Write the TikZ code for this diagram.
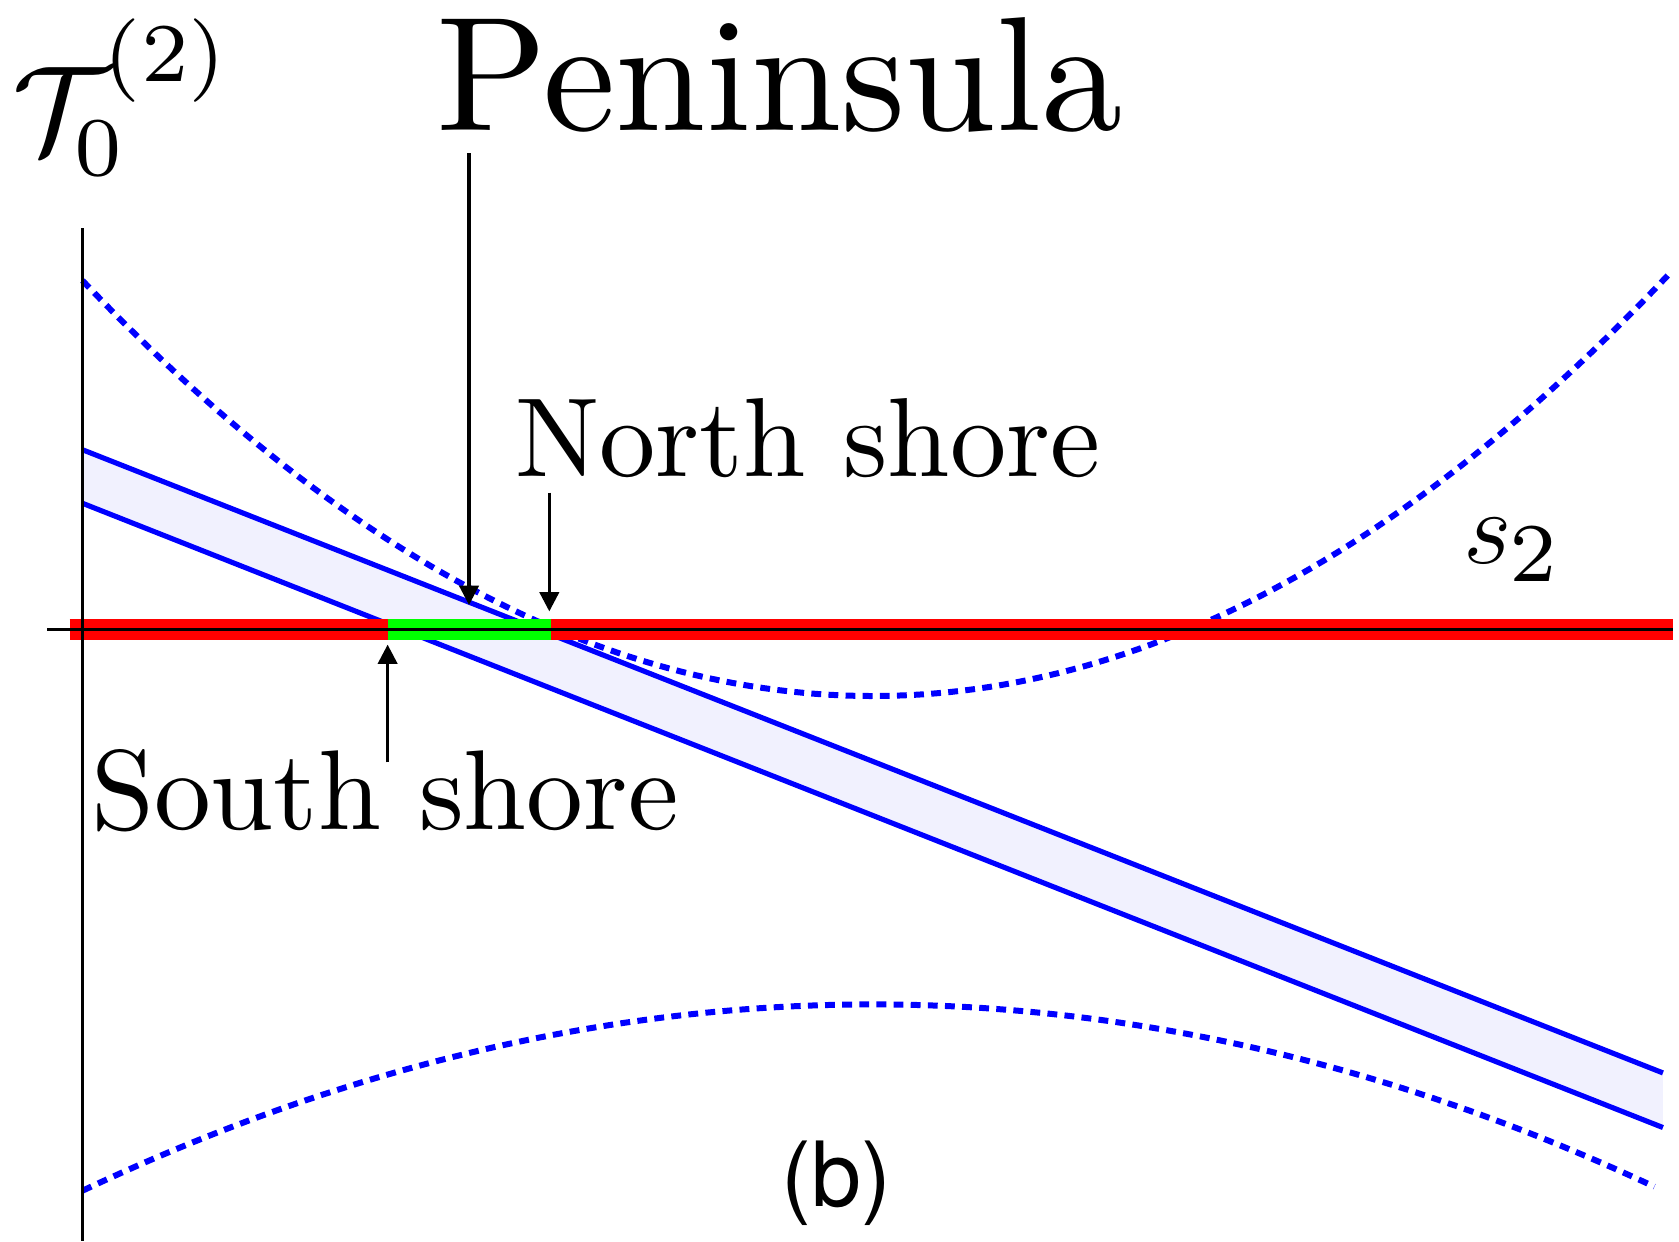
\RequirePackage{fix-cm}
\documentclass[tikz,border=0pt]{standalone}
\usepackage{fontspec}
\setmainfont{lmroman10-regular.otf}
\newfontfamily\lmseven{lmroman7-regular.otf}
\newfontfamily\heros{TeX Gyre Heros}
\usetikzlibrary{arrows.meta}
\definecolor{bandfill}{RGB}{241,241,254}
\definecolor{pgreen}{RGB}{0,255,0}
\begin{document}
\begin{tikzpicture}[x=0.5pt,y=-0.5pt,
  txt/.style={inner sep=0pt, outer sep=0pt},
  scr/.style={txt, font=\fontsize{39}{42}\selectfont\lmseven},
  bluesolid/.style={blue, line width=2.4pt},
  bluedot/.style={blue, line width=2.8pt, dash pattern=on 4.6pt off 3.4pt},
  axisline/.style={black, line width=1.5pt},
  ptr/.style={black, line width=1.5pt, -{Triangle[length=9pt,width=9pt]}}]
\useasboundingbox (0,0) rectangle (1568,1159);
% band
\fill[bandfill] (77,420) -- (1553,1002) -- (1553,1053) -- (77,470) -- cycle;
\draw[bluesolid] (77,420) -- (1553,1002);
\draw[bluesolid] (77,470) -- (1553,1053);
% dotted curves
\draw[bluedot] plot[domain=77:1560, samples=120] (\x, {650-388*((\x-815)/738)^2});
\draw[bluedot] plot[domain=77:1545, samples=120] (\x, {938+174*((\x-815)/738)^2});
% red / green bands
\coordinate (rl) at (65,588);
\coordinate (rr) at (1562,588);
\coordinate (gl) at (362,588);
\coordinate (gr) at (515,588);
\draw[red, line width=10pt] (rl) -- (rr);
\draw[pgreen, line width=10pt] (gl) -- (gr);
% axes
\coordinate (hl) at (44,588);
\coordinate (vt) at (77,213);
\coordinate (vb) at (77,1159);
\draw[axisline] (hl) -- (rr);
\draw[axisline] (vt) -- (vb);
% labels
\node[txt, anchor=base west] (tau) at (12,142) {\fontsize{58}{60}\selectfont $\mathcal{T}$};
\node[scr, anchor=base west] (tausub) at (70,164) {0};
\node[scr, anchor=base west] (tausup) at (97,76) {(2)};
\node[txt, anchor=base west] (pen) at (408,122) {\fontsize{76}{80}\selectfont Peninsula};
\node[txt, anchor=base west] (north) at (481,445) {\fontsize{52.5}{56}\selectfont North shore};
\node[txt, anchor=base west] (south) at (85,775) {\fontsize{53}{56}\selectfont South shore};
\node[txt, anchor=base west] (s2) at (1367,526) {\fontsize{49}{52}\selectfont $s$};
\node[scr, anchor=base west] (s2sub) at (1410,543) {2};
\node[txt, anchor=base] (b) at (781,1127) {\fontsize{42}{46}\selectfont\heros (b)};
% arrows
\coordinate (pens) at (438,143);
\coordinate (pent) at (438,565);
\coordinate (nors) at (513,460);
\coordinate (nort) at (513,571);
\coordinate (sous) at (362,712);
\coordinate (sout) at (362,602);
\draw[ptr] (pens) -- (pent);
\draw[ptr] (nors) -- (nort);
\draw[ptr] (sous) -- (sout);
\end{tikzpicture}
\end{document}
